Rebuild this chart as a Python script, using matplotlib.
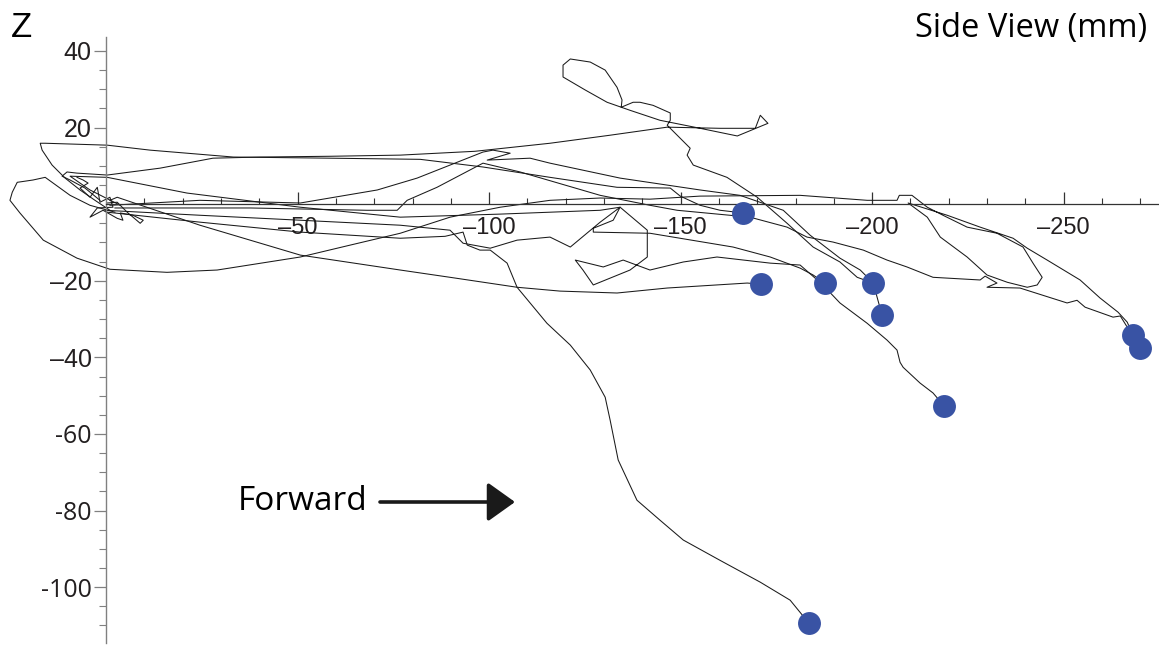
import numpy as np
import matplotlib.pyplot as plt

# ---------------------------------------------------- #
# side view trajectories (x mm, z mm), last point = end position (blue dot)
path_a = [(-1.0, -1.6), (2.9, 1.0), (6.8, 3.7), (10.7, 6.8), (14.1, 10.2), (16.7, 14.1),
          (17.2, 15.9), (15.9, 15.9), (-0.3, 15.4), (-11.5, 14.1), (-33.2, 12.3), (-58.5, 12.0),
          (-82.0, 11.7), (-98.4, 9.7), (-115.9, 7.0), (-133.4, 4.4), (-147.3, 4.2), (-149.9, 2.1),
          (-155.1, -0.3), (-160.3, -1.6), (-166.3, -2.3)]

path_b = [(-1.0, 1.0), (-2.9, 1.8), (-24.5, -5.5), (-50.7, -13.3), (-76.8, -17.2), (-89.8, -19.1),
          (-107.3, -21.7), (-118.5, -22.7), (-133.4, -23.2), (-146.5, -21.9), (-167.4, -20.6),
          (-171.0, -20.9)]

path_c = [(0.3, -1.6), (-24.5, -2.9), (-50.7, -4.2), (-76.8, -5.5), (-89.8, -6.8), (-93.2, -10.2),
          (-100.3, -11.5), (-107.3, -9.4), (-115.9, -8.6), (-121.2, -11.2), (-129.0, -4.7),
          (-134.2, -0.8), (-132.4, -4.2), (-127.2, -6.3), (-127.2, -7.3), (-142.0, -7.6),
          (-163.7, -11.2), (-173.4, -13.8), (-181.2, -16.7), (-184.6, -18.5), (-187.7, -20.6)]

path_d = [(1.6, 1.0), (5.5, 4.2), (9.4, 6.3), (11.5, 7.3), (10.2, 8.4), (7.6, 8.1), (-0.3, 7.6),
          (-14.1, 9.4), (-27.9, 12.0), (-40.2, 12.3), (-58.5, 12.5), (-76.8, 12.8), (-96.3, 13.8),
          (-115.9, 15.9), (-131.6, 18.0), (-146.5, 20.1), (-160.3, 19.8), (-169.5, 19.8),
          (-170.8, 23.2), (-172.8, 21.1), (-164.8, 17.8), (-155.1, 19.8), (-144.6, 21.9),
          (-136.8, 24.5), (-130.8, 26.6), (-125.1, 29.8), (-119.3, 33.2), (-119.3, 36.3),
          (-121.2, 37.9), (-126.4, 37.1), (-130.3, 35.0), (-133.4, 30.5), (-134.7, 27.2),
          (-134.5, 25.3), (-137.6, 26.6), (-139.4, 26.6), (-142.8, 25.8), (-147.3, 23.8),
          (-147.3, 21.9), (-146.5, 20.6), (-149.9, 17.2), (-152.5, 14.6), (-151.7, 12.8),
          (-153.3, 10.2), (-162.1, 7.0), (-170.0, 1.8), (-177.8, -5.0), (-184.6, -11.2),
          (-191.6, -15.1), (-196.1, -19.1), (-200.3, -20.6)]

path_e = [(-1.0, -0.3), (-24.5, 1.0), (-50.7, 0.3), (-70.8, 3.7), (-81.2, 6.8), (-98.4, 13.6),
          (-101.0, 14.1), (-105.5, 13.3), (-99.5, 11.5), (-110.7, 12.0), (-115.9, 10.7),
          (-134.2, 6.8), (-155.1, 3.7), (-165.5, 2.3), (-176.8, -1.6), (-183.8, -8.1),
          (-191.6, -14.1), (-196.9, -17.2), (-200.3, -20.6), (-201.3, -24.3), (-202.6, -29.0)]

path_f = [(-3.7, -0.3), (4.2, 3.7), (9.4, 7.3), (-0.3, 7.0), (-21.1, 2.9), (-50.7, -0.8),
          (-76.8, -3.4), (-102.9, -2.6), (-129.0, -1.6), (-134.2, -0.8), (-141.3, -6.8),
          (-141.3, -13.8), (-136.8, -17.2), (-127.2, -21.1), (-124.5, -17.2), (-122.5, -14.6),
          (-129.8, -16.4), (-135.0, -14.6), (-142.0, -17.2), (-150.7, -15.1), (-159.5, -13.8),
          (-173.4, -15.4), (-181.2, -15.9), (-185.1, -19.3), (-187.7, -21.7), (-191.6, -25.8),
          (-198.7, -31.1), (-203.9, -35.5), (-206.5, -38.1), (-207.3, -41.3), (-208.1, -42.6),
          (-212.5, -46.7), (-215.9, -49.3), (-218.8, -52.7)]

path_g = [(-2.3, -2.1), (4.2, -0.3), (9.4, 2.3), (15.9, 7.0), (19.1, 6.3), (23.2, 5.7),
          (24.5, 3.1), (25.1, 1.0), (22.5, -2.3), (16.4, -9.4), (7.6, -14.1), (-1.0, -17.0),
          (-15.9, -17.8), (-29.0, -17.2), (-50.7, -13.8), (-63.7, -10.7), (-76.8, -7.6),
          (-89.8, -3.4), (-102.9, -0.8), (-115.9, 1.0), (-129.0, 1.6), (-142.0, 1.3),
          (-155.1, 2.1), (-181.2, 2.3), (-198.7, 1.0), (-206.5, 1.0), (-207.1, 2.3),
          (-210.4, 2.3), (-214.4, -0.8), (-218.5, -2.9), (-224.8, -6.0), (-232.6, -7.6),
          (-239.4, -11.2), (-242.0, -15.4), (-244.4, -19.1), (-243.1, -21.1), (-240.5, -21.7),
          (-235.3, -20.4), (-230.0, -18.5), (-224.8, -13.8), (-217.8, -8.6), (-214.4, -3.4),
          (-209.4, 0.3), (-219.6, -2.9), (-228.2, -6.0), (-236.8, -8.9), (-240.5, -11.5),
          (-245.7, -14.6), (-254.3, -19.8), (-259.5, -24.5), (-264.2, -28.2), (-266.6, -30.8),
          (-268.1, -34.2)]

path_h = [(-2.3, -1.0), (-37.6, -1.0), (-68.1, -1.6), (-76.0, -1.6), (-78.6, 1.0), (-86.4, 4.4),
          (-98.4, 10.7), (-108.1, 8.4), (-129.0, 2.3), (-142.0, -0.3), (-149.1, -1.6),
          (-168.1, -3.4), (-177.8, -6.0), (-183.0, -8.6), (-189.8, -9.9), (-197.7, -12.0),
          (-203.9, -14.6), (-209.1, -16.4), (-215.9, -19.1), (-228.2, -19.8), (-229.5, -18.8),
          (-232.6, -20.6), (-230.0, -21.7), (-238.6, -21.9), (-250.9, -25.8), (-253.5, -25.1),
          (-255.6, -26.9), (-262.9, -29.5), (-264.8, -29.2), (-266.6, -32.1), (-270.0, -37.6)]

path_i = [(-0.3, -2.1), (-24.5, -4.7), (-50.7, -7.3), (-76.8, -8.9), (-88.5, -8.4), (-93.2, -7.3),
          (-94.3, -10.7), (-97.6, -12.0), (-100.3, -12.0), (-104.7, -15.4), (-107.3, -21.7),
          (-115.1, -31.1), (-121.2, -36.8), (-126.4, -43.3), (-130.3, -50.4), (-131.6, -56.4),
          (-133.7, -66.8), (-138.6, -77.3), (-144.6, -82.5), (-150.7, -87.7), (-160.3, -93.0),
          (-170.8, -98.7), (-178.6, -103.4), (-183.5, -109.4)]

# jitter near the start position (no end marker)
start_cluster = [(7.6, 7.0), (6.0, 6.3), (4.7, 5.5), (6.8, 4.2), (4.2, 1.8), (2.3, 4.4), (1.6, 0.5),
                 (-1.0, 1.8), (-1.8, -0.8), (2.3, -1.0), (4.2, -3.4), (0.8, -1.6), (-2.9, -3.7),
                 (-4.4, -4.2), (-3.7, -2.3), (-7.0, -2.9), (-9.7, -4.2), (-8.9, -5.0), (-5.5, -2.1),
                 (-2.9, 0.5), (-0.3, 0.3)]

paths = [path_a, path_b, path_c, path_d, path_e, path_f, path_g, path_h, path_i]

x_major = [-50, -100, -150, -200, -250]
x_major_labels = ["–50", "–100", "–150", "–200", "–250"]
y_major = [40, 20, -20, -40, -60, -80, -100]
y_major_labels = ["40", "20", "–20", "–40", "-60", "-80", "-100"]

# ---------------------------------------------------- #
fig = plt.figure(figsize=(11.59, 6.45), dpi=100)
ax = fig.add_axes([0, 0, 1, 1])
ax.set_xlim(27.7, -274.9)
ax.set_ylim(-115.1, 53.3)

line_kw = dict(color="#1a1a1a", lw=0.75, solid_joinstyle="round")
sc = np.array(start_cluster)
ax.plot(sc[:, 0], sc[:, 1], **line_kw)
for p in paths:
    p = np.array(p)
    ax.plot(p[:, 0], p[:, 1], **line_kw)
for p in paths:
    ax.plot(p[-1][0], p[-1][1], "o", ms=16.5, color="#3953a4", mec="none", zorder=4)

# axes through the origin
for s in ["top", "right"]:
    ax.spines[s].set_visible(False)
ax.spines["left"].set_position(("data", 0))
ax.spines["bottom"].set_position(("data", 0))
ax.spines["left"].set_bounds(-114.6, 43.6)
ax.spines["bottom"].set_bounds(0, -274.9)
ax.spines["left"].set_color("#808080")
ax.spines["bottom"].set_color("#333333")
ax.spines["left"].set_linewidth(1.0)
ax.spines["bottom"].set_linewidth(0.9)

ax.set_xticks(x_major)
ax.set_xticklabels(x_major_labels, fontsize=17, family="Liberation Sans", color="#231f20")
ax.set_xticks([v for v in range(-270, 0, 10) if v % 50], minor=True)
ax.tick_params(axis="x", which="major", direction="in", length=8.5, width=0.9,
               color="#333333", pad=9)
ax.tick_params(axis="x", which="minor", direction="in", length=4, width=0.8, color="#333333")

ax.set_yticks(y_major)
ax.set_yticklabels(y_major_labels, fontsize=18, family="Liberation Sans", color="#231f20")
ax.set_yticks([v for v in range(-110, 41, 5) if v % 20 and v != 0], minor=True)
ax.tick_params(axis="y", which="major", direction="out", length=8.5, width=0.9,
               color="#808080", pad=2)
ax.tick_params(axis="y", which="minor", direction="out", length=5, width=0.8, color="#808080")
for lab in ax.get_yticklabels()[4:]:
    lab.set_family("Open Sans")

fig.text(0.009, 0.943, "Z", fontsize=25, family="Liberation Sans", va="baseline")
fig.text(0.9896, 0.9426, "Side View (mm)", fontsize=23.5, family="Open Sans",
         ha="right", va="baseline")
fig.text(0.2053, 0.2093, "Forward", fontsize=24, family="Open Sans", va="baseline")
ax.annotate("", xy=(515, 143), xytext=(380, 143), xycoords="figure pixels",
            textcoords="figure pixels",
            arrowprops=dict(arrowstyle="-|>,head_length=0.7,head_width=0.5",
                            mutation_scale=24, lw=2.6, color="#1a1a1a",
                            shrinkA=0, shrinkB=0))

fig.savefig("out.png", dpi=100)
